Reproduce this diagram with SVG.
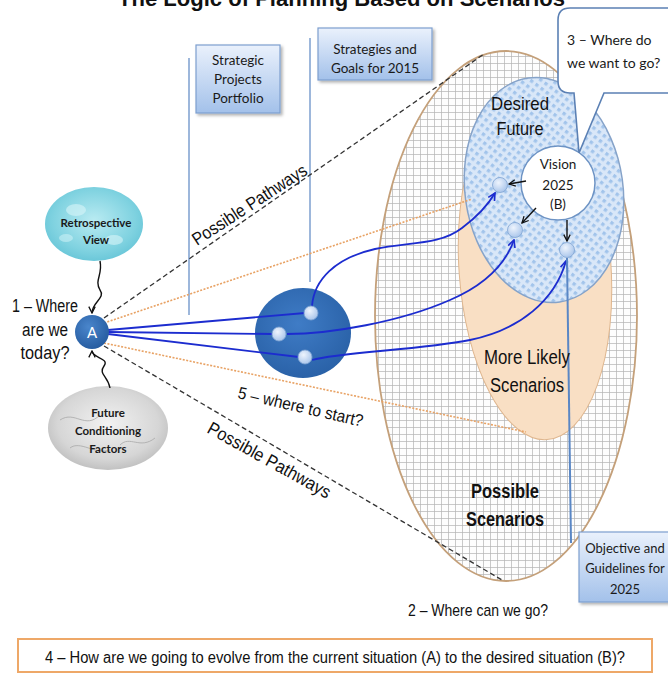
<svg xmlns="http://www.w3.org/2000/svg" width="668" height="673" viewBox="0 0 668 673">
<style>
.arial{font-family:"Liberation Sans",Arial,sans-serif;fill:#111}
.cal{font-family:Lato,"Open Sans",sans-serif;fill:#1a1a1a}
.box{fill:url(#boxGrad);stroke:#7d9fcf;stroke-width:1.2;filter:url(#shadow)}
.vline{stroke:#7d9fcf;stroke-width:1.5;fill:none}
.dash{stroke:#333;stroke-width:1.3;stroke-dasharray:5 3;fill:none}
.orange{stroke:#e8a264;stroke-width:1.6;stroke-dasharray:2 1.5;fill:none}
.path{stroke:#1c2ccf;stroke-width:1.8;fill:none}
.arrowk{stroke:#111;stroke-width:1.4;fill:none}
.dot{fill:url(#dotGrad);stroke:#7fa3d2;stroke-width:0.8}
</style>
<defs>
<pattern id="grid" width="7" height="7" patternUnits="userSpaceOnUse">
<rect width="7" height="7" fill="#fdfdfd"/>
<path d="M0 0.5H7M0.5 0V7" stroke="#b3b3b3" stroke-width="0.7"/>
</pattern>
<pattern id="check" width="6.5" height="6.5" patternUnits="userSpaceOnUse" patternTransform="rotate(45)">
<rect width="6.5" height="6.5" fill="#d9e7f8"/>
<rect width="3.3" height="3.3" fill="#a2c4eb"/>
</pattern>
<linearGradient id="boxGrad" x1="0" y1="0" x2="0" y2="1">
<stop offset="0" stop-color="#eaf1fc"/>
<stop offset="1" stop-color="#a3c1ea"/>
</linearGradient>
<radialGradient id="blobGrad" cx="0.45" cy="0.4" r="0.6">
<stop offset="0" stop-color="#3f7cc6"/>
<stop offset="1" stop-color="#2a62a8"/>
</radialGradient>
<radialGradient id="dotGrad" cx="0.4" cy="0.35" r="0.7">
<stop offset="0" stop-color="#eef4fd"/>
<stop offset="1" stop-color="#a6c3ea"/>
</radialGradient>
<radialGradient id="aGrad" cx="0.4" cy="0.35" r="0.7">
<stop offset="0" stop-color="#4a86cc"/>
<stop offset="1" stop-color="#245a9e"/>
</radialGradient>
<radialGradient id="waterGrad" cx="0.5" cy="0.45" r="0.6">
<stop offset="0" stop-color="#b9ebf2"/>
<stop offset="0.7" stop-color="#7fd2e0"/>
<stop offset="1" stop-color="#63c3d6"/>
</radialGradient>
<radialGradient id="marbleGrad" cx="0.5" cy="0.45" r="0.6">
<stop offset="0" stop-color="#f2f2f2"/>
<stop offset="0.7" stop-color="#d6d6d6"/>
<stop offset="1" stop-color="#b9b9b9"/>
</radialGradient>
<filter id="shadow" x="-20%" y="-20%" width="150%" height="150%">
<feDropShadow dx="2" dy="2" stdDeviation="1.5" flood-color="#000" flood-opacity="0.3"/>
</filter>
<marker id="blueArrow" viewBox="0 0 10 10" refX="9" refY="5" markerWidth="9" markerHeight="9" markerUnits="userSpaceOnUse" orient="auto">
<path d="M1,1 L9,5 L1,9" fill="none" stroke="#1c2ccf" stroke-width="1.8"/>
</marker>
<marker id="blackArrow" viewBox="0 0 10 10" refX="9" refY="5" markerWidth="8" markerHeight="8" markerUnits="userSpaceOnUse" orient="auto">
<path d="M1,1 L9,5 L1,9" fill="none" stroke="#111" stroke-width="1.6"/>
</marker>
</defs>

<rect width="668" height="673" fill="#ffffff"/>

<text class="arial" x="118" y="6" font-size="22" font-weight="bold" textLength="447" lengthAdjust="spacingAndGlyphs">The Logic of Planning Based on Scenarios</text>

<g id="possible-scenarios">
<ellipse cx="506" cy="316" rx="131" ry="265" fill="url(#grid)" stroke="#c4a07a" stroke-width="1.8"/>
</g>

<g id="more-likely-scenarios">
<ellipse cx="535" cy="268" rx="76" ry="172" transform="rotate(-4 535 268)" fill="#f9dfc4" stroke="#dfb68e" stroke-width="1"/>
</g>

<g id="desired-future">
<ellipse cx="544" cy="190" rx="79" ry="113" transform="rotate(-8 544 190)" fill="url(#check)" stroke="#86a3c9" stroke-width="1.5"/>
<text class="arial" x="520" y="110" font-size="19" text-anchor="middle" textLength="58" lengthAdjust="spacingAndGlyphs">Desired</text>
<text class="arial" x="520" y="135" font-size="19" text-anchor="middle" textLength="47" lengthAdjust="spacingAndGlyphs">Future</text>
</g>

<g id="vision-2025">
<circle cx="558" cy="183" r="37" fill="#ffffff" stroke="#6d93c4" stroke-width="1.5"/>
<text class="cal" x="558" y="169" font-size="13.5" text-anchor="middle">Vision</text>
<text class="cal" x="558" y="190" font-size="13.5" text-anchor="middle">2025</text>
<text class="cal" x="558" y="209" font-size="13.5" text-anchor="middle">(B)</text>
</g>

<g id="callout-3">
<path d="M570,8 H676 V93 H604 L579,153 L574,93 H570 Q558,93 558,81 V20 Q558,8 570,8 Z" fill="#ffffff" stroke="#5b80b4" stroke-width="1.6"/>
<text class="cal" x="567" y="45" font-size="14">3 – Where do</text>
<text class="cal" x="567" y="68" font-size="14">we want to go?</text>
</g>

<g id="strategic-projects-portfolio">
<rect class="box" x="196" y="45" width="84" height="68"/>
<text class="cal" x="238" y="65" font-size="13.5" text-anchor="middle">Strategic</text>
<text class="cal" x="238" y="84" font-size="13.5" text-anchor="middle">Projects</text>
<text class="cal" x="238" y="103" font-size="13.5" text-anchor="middle">Portfolio</text>
</g>

<g id="strategies-goals-2015">
<rect class="box" x="318" y="28" width="114" height="52"/>
<text class="cal" x="375" y="54" font-size="13.5" text-anchor="middle">Strategies and</text>
<text class="cal" x="375" y="73" font-size="13.5" text-anchor="middle">Goals for 2015</text>
</g>

<g id="objective-guidelines-2025">
<rect class="box" x="579" y="532" width="95" height="70"/>
<text class="cal" x="625" y="553" font-size="13" text-anchor="middle">Objective and</text>
<text class="cal" x="625" y="573" font-size="13" text-anchor="middle">Guidelines for</text>
<text class="cal" x="625" y="594" font-size="13" text-anchor="middle">2025</text>
</g>

<g id="retrospective-view">
<ellipse cx="94" cy="224" rx="49" ry="37" fill="url(#waterGrad)"/>
<ellipse cx="76" cy="210" rx="10" ry="6" fill="#d8f5f9" opacity="0.6"/>
<ellipse cx="114" cy="240" rx="9" ry="5" fill="#d8f5f9" opacity="0.6"/>
<ellipse cx="66" cy="238" rx="7" ry="4" fill="#d8f5f9" opacity="0.5"/>
<text class="cal" x="96" y="227" font-size="11.5" font-weight="bold" text-anchor="middle" fill="#333">Retrospective</text>
<text class="cal" x="96" y="244" font-size="11.5" font-weight="bold" text-anchor="middle" fill="#333">View</text>
</g>

<g id="future-conditioning-factors">
<ellipse cx="108" cy="428" rx="60" ry="42" fill="url(#marbleGrad)"/>
<path d="M60,420 C75,410 85,430 100,415 M120,445 C130,435 140,450 155,438 M70,448 C80,440 95,455 110,450" stroke="#a8a8a8" stroke-width="0.8" fill="none"/>
<text class="cal" x="108" y="417" font-size="11.5" font-weight="bold" text-anchor="middle" fill="#333">Future</text>
<text class="cal" x="108" y="435" font-size="11.5" font-weight="bold" text-anchor="middle" fill="#333">Conditioning</text>
<text class="cal" x="108" y="453" font-size="11.5" font-weight="bold" text-anchor="middle" fill="#333">Factors</text>
</g>

<g id="start-cluster">
<ellipse cx="303" cy="333" rx="48" ry="45" fill="url(#blobGrad)"/>
</g>

<g id="connectors">
<line class="vline" x1="189" y1="58" x2="189" y2="315"/>
<line class="vline" x1="310" y1="38" x2="310" y2="282"/>
<line class="dash" x1="104" y1="318" x2="484" y2="54"/>
<line class="dash" x1="104" y1="346" x2="502" y2="580"/>
<line class="orange" x1="104" y1="323" x2="472" y2="199"/>
<line class="orange" x1="104" y1="343" x2="526" y2="432"/>
<line class="path" x1="108" y1="330" x2="305" y2="313"/>
<line class="path" x1="108" y1="332" x2="273" y2="334"/>
<line class="path" x1="108" y1="334" x2="299" y2="357"/>
<path class="path" d="M312,306 C314,280 335,258 375,249 C410,242 440,245 462,228 C478,216 488,205 495,193" marker-end="url(#blueArrow)"/>
<path class="path" d="M287,334 C330,334 400,322 450,300 C485,285 505,265 514,240" marker-end="url(#blueArrow)"/>
<path class="path" d="M312,360 C340,352 420,350 470,340 C520,330 555,300 566,261" marker-end="url(#blueArrow)"/>
<line x1="571" y1="543" x2="567" y2="258" stroke="#5a87c5" stroke-width="2"/>
<line class="arrowk" x1="526" y1="181" x2="509" y2="184" marker-end="url(#blackArrow)"/>
<line class="arrowk" x1="536" y1="208" x2="522" y2="223" marker-end="url(#blackArrow)"/>
<line class="arrowk" x1="567" y1="220" x2="567" y2="241" marker-end="url(#blackArrow)"/>
<path class="arrowk" d="M100,261 C103,275 94,280 100,290 C106,298 92,302 92,313" marker-end="url(#blackArrow)"/>
<path class="arrowk" d="M110,388 C108,376 98,374 104,366 C110,358 92,358 92,351" marker-end="url(#blackArrow)"/>
</g>

<g id="node-a">
<circle cx="92" cy="332" r="17" fill="url(#aGrad)"/>
<text x="92" y="338" font-family="Lato,'Open Sans',sans-serif" font-size="15" fill="#ffffff" text-anchor="middle">A</text>
</g>

<g id="pathway-points">
<circle class="dot" cx="311" cy="313" r="7"/>
<circle class="dot" cx="279" cy="334" r="7"/>
<circle class="dot" cx="305" cy="357" r="7"/>
<circle class="dot" cx="500" cy="185" r="7.5"/>
<circle class="dot" cx="515" cy="230" r="7.5"/>
<circle class="dot" cx="567" cy="250" r="7.5"/>
</g>

<g id="labels">
<text class="arial" x="45" y="312" font-size="18" text-anchor="middle" textLength="66" lengthAdjust="spacingAndGlyphs">1 – Where</text>
<text class="arial" x="45" y="336" font-size="18" text-anchor="middle" textLength="46" lengthAdjust="spacingAndGlyphs">are we</text>
<text class="arial" x="45" y="359" font-size="18" text-anchor="middle" textLength="49" lengthAdjust="spacingAndGlyphs">today?</text>
<text class="arial" x="0" y="0" font-size="18" textLength="133" lengthAdjust="spacingAndGlyphs" transform="translate(197 246) rotate(-33)">Possible Pathways</text>
<text class="arial" x="0" y="0" font-size="17" textLength="128" lengthAdjust="spacingAndGlyphs" transform="translate(237 398) rotate(13)">5 – where to start?</text>
<text class="arial" x="0" y="0" font-size="18" textLength="138" lengthAdjust="spacingAndGlyphs" transform="translate(206 432) rotate(29)">Possible Pathways</text>
<text class="arial" x="527" y="364" font-size="20" text-anchor="middle" textLength="86" lengthAdjust="spacingAndGlyphs">More Likely</text>
<text class="arial" x="527" y="392" font-size="20" text-anchor="middle" textLength="74" lengthAdjust="spacingAndGlyphs">Scenarios</text>
<text class="arial" x="505" y="498" font-size="20" font-weight="bold" text-anchor="middle" textLength="68" lengthAdjust="spacingAndGlyphs">Possible</text>
<text class="arial" x="505" y="526" font-size="20" font-weight="bold" text-anchor="middle" textLength="78" lengthAdjust="spacingAndGlyphs">Scenarios</text>
<text class="arial" x="478" y="616" font-size="17" text-anchor="middle" textLength="140" lengthAdjust="spacingAndGlyphs">2 – Where can we go?</text>
</g>

<g id="question-4">
<rect x="18" y="639" width="634" height="33" fill="#ffffff" stroke="#eea868" stroke-width="2"/>
<text class="arial" x="335" y="663" font-size="16" text-anchor="middle" textLength="580" lengthAdjust="spacingAndGlyphs">4 – How are we going to evolve from the current situation (A) to the desired situation (B)?</text>
</g>
</svg>
